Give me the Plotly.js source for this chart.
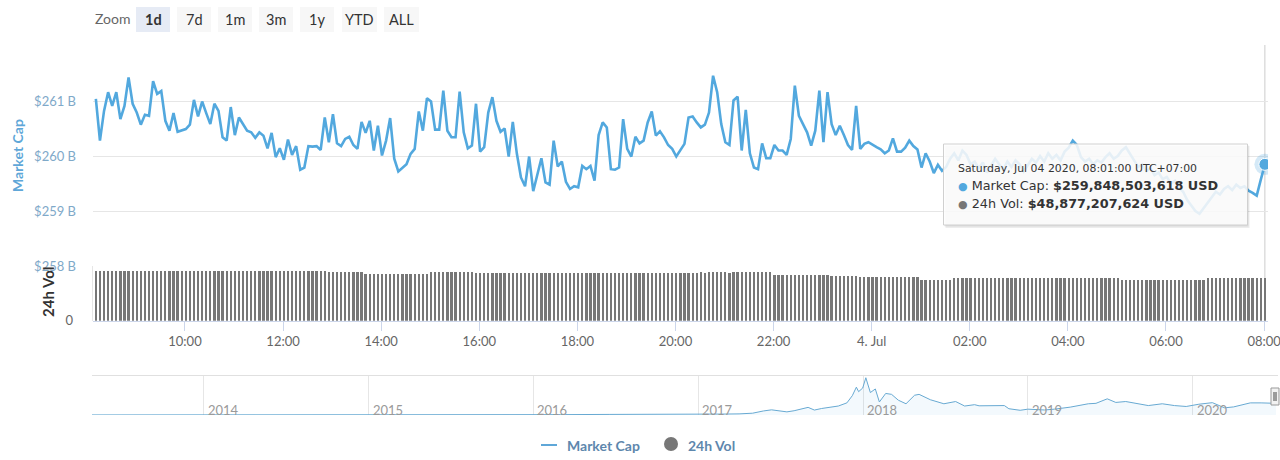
<!DOCTYPE html>
<html>
<head>
<meta charset="utf-8">
<script src="https://cdn.plot.ly/plotly-3.0.1.min.js"></script>
<style>
  html, body { margin: 0; padding: 0; background: #ffffff; }
  #chart { width: 1280px; height: 460px; }
</style>
</head>
<body>
<div id="chart"></div>
<script>
// ---------------- DATA ----------------
// 1-day market cap (billions USD), one point every 5 minutes, 2020-07-03 08:11 -> 2020-07-04 08:01 (UTC+07:00)
const startTime = '2020-07-03 08:11:00';
const stepMinutes = 5;
const marketCap = [
  261.04,260.28,260.82,261.16,260.91,261.16,260.67,260.91,261.43,260.95,
  260.79,260.57,260.75,260.73,261.36,261.13,261.18,260.64,260.46,260.78,
  260.44,260.47,260.49,260.57,261.02,260.72,260.99,260.78,260.58,260.95,
  260.82,260.34,260.28,260.89,260.38,260.70,260.58,260.46,260.43,260.33,
  260.43,260.37,260.14,260.42,259.98,260.14,259.93,260.30,260.02,260.18,
  259.75,259.79,260.18,260.17,260.18,260.11,260.70,260.25,260.76,260.23,
  260.18,260.31,260.35,260.20,260.13,260.62,260.42,260.64,260.10,260.55,
  260.01,260.28,260.69,259.95,259.72,259.79,259.85,260.04,260.13,260.81,
  260.46,261.05,260.99,260.48,260.48,261.19,260.46,260.34,260.34,261.17,
  260.43,260.14,260.19,260.95,
  260.08,260.16,260.79,261.07,260.64,260.44,260.50,259.99,260.62,260.04,
  259.61,259.45,259.99,259.36,259.67,259.96,259.52,259.48,260.28,259.81,
  259.90,259.53,259.40,259.45,259.43,259.82,259.76,259.82,259.55,260.38,
  260.61,260.52,259.76,259.75,259.79,260.67,260.13,259.99,260.35,260.23,
  260.28,260.61,260.81,260.37,260.45,260.34,260.20,260.13,259.99,260.11,
  260.22,260.70,260.72,260.61,260.52,260.57,260.79,261.46,261.16,260.58,
  260.25,260.20,261.01,261.08,260.10,260.84,260.05,259.79,259.76,260.23,
  259.96,259.96,260.20,260.10,260.10,260.02,260.31,261.28,260.73,260.58,
  260.43,260.19,260.46,261.19,260.25,261.16,260.58,260.38,260.55,260.38,
  260.20,260.11,260.91,260.13,260.22,260.25,260.20,260.16,
  260.12,260.05,260.10,260.32,260.08,260.08,260.15,260.28,260.18,260.12,
  259.79,260.05,259.90,259.69,259.84,259.73,
  259.80,259.95,260.05,259.92,260.10,260.02,259.85,259.90,259.78,259.88,
  259.70,259.82,259.95,259.85,259.75,259.90,259.80,259.92,259.85,259.72,
  259.83,259.95,259.88,260.00,259.90,260.05,259.95,260.02,259.92,260.08,
  260.15,260.28,260.20,259.98,259.90,259.95,259.85,259.92,259.88,259.98,
  260.05,259.95,260.00,260.10,260.16,260.05,259.92,259.80,259.85,259.72,
  259.78,259.65,259.70,259.58,259.62,259.50,259.55,259.42,259.35,259.20,
  259.10,259.00,258.95,259.05,259.15,259.25,259.35,259.30,259.40,259.45,
  259.38,259.48,259.42,259.45,
  259.37,259.33,259.28,259.57,259.848503618
];
// 24h volume (billions USD), same timestamps
const volume24h = [
  56.97,56.95,56.98,56.97,56.96,56.97,56.99,56.98,56.97,56.96,
  56.97,56.98,56.97,56.95,56.96,56.97,56.98,56.99,56.97,56.96,
  56.95,56.97,56.98,56.97,56.96,56.97,56.98,56.97,56.96,56.95,
  56.97,56.98,56.99,56.97,56.96,56.97,56.95,56.96,56.97,56.98,
  56.97,56.96,56.97,56.98,56.97,56.96,56.95,56.97,56.98,56.97,
  56.96,56.97,56.98,56.97,56.96,56.97,56.98,
  55.81,55.80,55.82,55.81,55.79,55.80,55.82,55.81,55.80,
  54.31,54.30,54.32,54.28,54.31,54.33,54.30,54.29,54.31,54.32,54.30,54.31,54.29,54.30,54.32,54.31,
  55.81,55.80,55.82,55.81,55.79,55.80,55.82,55.81,55.80,55.81,55.79,
  54.66,54.90,54.40,54.70,
  55.35,55.34,55.36,55.35,55.33,
  55.00,55.02,54.98,55.01,55.00,54.99,55.02,55.00,54.98,55.01,
  55.00,55.02,54.99,55.00,55.01,54.98,55.00,55.02,55.00,54.99,
  55.01,55.00,54.98,55.02,55.00,55.01,54.99,55.00,55.02,54.98,
  55.00,55.01,55.00,54.99,55.02,55.00,54.98,55.01,55.00,55.02,
  54.99,55.00,55.01,55.00,
  55.20,55.30,55.81,55.10,55.81,55.80,55.82,55.81,55.80,55.40,
  55.81,55.82,55.80,55.81,55.79,55.80,55.82,55.81,55.80,55.81,
  53.04,53.05,53.03,53.04,53.02,53.05,53.04,53.03,53.04,53.05,53.03,53.04,53.02,53.04,
  51.19,51.20,51.18,51.19,51.21,51.19,51.18,
  50.04,50.05,50.03,50.04,50.02,50.05,50.04,50.03,50.04,50.05,50.03,50.04,50.02,50.04,50.03,
  47.26,47.25,47.27,47.26,47.24,47.26,47.27,47.25,
  48.88,48.87,48.89,48.88,48.86,48.88,48.89,48.87,48.88,48.89,
  48.88,48.86,48.88,48.87,48.89,48.88,48.88,48.87,48.89,48.88,
  48.86,48.88,48.89,48.87,48.88,48.89,48.88,48.86,48.88,48.87,
  48.89,48.88,48.88,48.87,48.89,48.88,48.86,48.88,48.89,48.87,
  48.88,
  47.26,47.25,47.27,47.26,47.24,47.26,47.27,47.25,47.26,47.27,
  47.25,47.26,47.24,47.26,47.27,47.25,47.26,47.25,47.27,47.26,47.25,
  48.88,48.87,48.89,48.88,48.86,48.88,48.89,48.87,48.88,48.89,
  48.88,48.86,48.88,48.87,48.877207624
];
// Time axis ticks
const timeTickVals = ['2020-07-03 10:00','2020-07-03 12:00','2020-07-03 14:00','2020-07-03 16:00','2020-07-03 18:00',
  '2020-07-03 20:00','2020-07-03 22:00','2020-07-04 00:00','2020-07-04 02:00','2020-07-04 04:00',
  '2020-07-04 06:00','2020-07-04 08:00'];
const timeTickText = ['10:00','12:00','14:00','16:00','18:00','20:00','22:00','4. Jul','02:00','04:00','06:00','08:00'];
const capTickVals = [258, 259, 260, 261, 262];
const capTickText = ['$258 B', '$259 B', '$260 B', '$261 B', ''];

// Navigator: all-time market cap (billions USD)
const navDates = ['2013-04-28','2013-07-01','2013-10-01','2013-11-15','2013-12-04','2014-01-01','2014-03-01','2014-06-01',
  '2014-09-01','2014-12-01','2015-01-15','2015-04-01','2015-07-01','2015-10-01','2015-11-05','2016-01-01','2016-03-01',
  '2016-06-17','2016-09-01','2016-12-01','2017-01-05','2017-03-01','2017-04-01','2017-05-01','2017-05-25','2017-06-12',
  '2017-07-16','2017-08-01','2017-09-01','2017-09-15','2017-10-01','2017-11-07','2017-11-26','2017-12-08','2017-12-17',
  '2017-12-22','2017-12-31','2018-01-07','2018-01-17','2018-01-28','2018-02-06','2018-02-20','2018-03-05','2018-03-20',
  '2018-04-06','2018-04-25','2018-05-05','2018-05-30','2018-06-29','2018-07-25','2018-08-14','2018-09-05','2018-09-15',
  '2018-10-15','2018-11-10','2018-11-20','2018-12-15','2019-01-01','2019-02-07','2019-03-01','2019-04-05','2019-05-15',
  '2019-06-01','2019-06-26','2019-07-15','2019-08-06','2019-08-30','2019-09-25','2019-10-26','2019-11-22','2019-12-18',
  '2020-01-15','2020-02-14','2020-03-12','2020-04-01','2020-05-08','2020-06-01','2020-07-04'];
const navCap = [1.6,1.2,1.6,5,15,10,8,8.5,6.5,5.5,3.5,3.6,4.2,3.8,6.5,7,8,13,11,12.5,18,21,25,40,90,115,70,95,170,110,
  145,200,270,430,620,520,600,830,500,580,290,480,460,330,250,440,460,340,250,300,200,230,205,215,210,140,105,130,112,
  130,175,250,260,360,280,300,250,210,250,210,190,240,275,160,180,270,270,260];
const navYears = ['2014','2015','2016','2017','2018','2019','2020'];

const zoomButtons = ['1d','7d','1m','3m','1y','YTD','ALL'];
const selectedZoom = '1d';

// ---------------- HELPERS ----------------
const W = 1280, H = 460;
const X = px => px / W;
const Y = py => 1 - py / H;
function fmtDate(ms) { return new Date(ms).toISOString().slice(0, 19).replace('T', ' '); }
const t0 = Date.parse(startTime.replace(' ', 'T') + 'Z');
const times = marketCap.map((_, i) => fmtDate(t0 + i * stepMinutes * 60000));
const last = marketCap.length - 1;

const BLUE = '#52a8de';
const FONT = 'Lato, "Open Sans", sans-serif';
const TIPFONT = '"DejaVu Sans", Verdana, sans-serif';

// ---------------- TRACES ----------------
const traces = [
  {
    type: 'bar', x: times, y: volume24h, xaxis: 'x', yaxis: 'y2',
    marker: { color: '#777777', line: { width: 0 } },
    width: stepMinutes * 60000 * 0.56, hoverinfo: 'skip'
  },
  {
    type: 'scatter', mode: 'lines', x: times, y: marketCap, xaxis: 'x', yaxis: 'y',
    line: { color: BLUE, width: 2.6, shape: 'linear' }, hoverinfo: 'skip'
  },
  {
    type: 'scatter', mode: 'markers', x: [times[last]], y: [marketCap[last]], xaxis: 'x', yaxis: 'y',
    marker: { size: 21, color: 'rgba(82,168,222,0.25)' }, hoverinfo: 'skip'
  },
  {
    type: 'scatter', mode: 'markers', x: [times[last]], y: [marketCap[last]], xaxis: 'x', yaxis: 'y',
    marker: { size: 12, color: BLUE, line: { color: '#ffffff', width: 1 } }, hoverinfo: 'skip'
  },
  {
    type: 'scatter', mode: 'lines', x: navDates, y: navCap, xaxis: 'x2', yaxis: 'y3',
    line: { color: '#67a9d2', width: 1 }, fill: 'tozeroy', fillcolor: 'rgba(82,168,222,0.07)', hoverinfo: 'skip'
  }
];

// ---------------- SHAPES / ANNOTATIONS ----------------
const shapes = [];
const annotations = [];

// crosshair at hovered (last) point
shapes.push({ type: 'line', xref: 'x', yref: 'paper', x0: times[last], x1: times[last], y0: Y(321), y1: Y(45),
  line: { color: '#cccccc', width: 1 }, layer: 'below' });
// volume pane left border
shapes.push({ type: 'line', xref: 'paper', yref: 'paper', x0: X(92.5), x1: X(92.5), y0: Y(321), y1: Y(266),
  line: { color: '#e6e6e6', width: 1 }, layer: 'below' });
// navigator top outline
shapes.push({ type: 'line', xref: 'paper', yref: 'paper', x0: X(92), x1: X(1278), y0: Y(375.5), y1: Y(375.5),
  line: { color: '#e0e0e0', width: 1 }, layer: 'below' });

// navigator year labels
navYears.forEach(yr => {
  annotations.push({ xref: 'x2', yref: 'paper', x: yr + '-01-01', y: Y(410), xanchor: 'left', yanchor: 'middle',
    xshift: 2, text: yr, showarrow: false, font: { family: FONT, size: 13, color: '#9a9a9a' } });
});
// navigator handle
shapes.push({ type: 'rect', xref: 'paper', yref: 'paper', x0: X(1271), x1: X(1279), y0: Y(405), y1: Y(388),
  fillcolor: '#f2f2f2', line: { color: '#999999', width: 1 }, layer: 'above' });
[1274, 1276].forEach(px => shapes.push({ type: 'line', xref: 'paper', yref: 'paper', x0: X(px), x1: X(px),
  y0: Y(401), y1: Y(392), line: { color: '#444444', width: 1 }, layer: 'above' }));

// Zoom buttons
annotations.push({ xref: 'paper', yref: 'paper', x: X(93), y: Y(19), xanchor: 'left', yanchor: 'middle',
  text: 'Zoom', showarrow: false, font: { family: FONT, size: 14, color: '#666666' } });
zoomButtons.forEach((b, i) => {
  const left = 136 + i * 41 + (i >= 5 ? (i - 4) * 1 : 0);
  const w = (b.length === 3) ? 35 : 34;
  const sel = b === selectedZoom;
  shapes.push({ type: 'rect', xref: 'paper', yref: 'paper', x0: X(left), x1: X(left + w), y0: Y(32), y1: Y(7),
    fillcolor: sel ? '#e6ebf5' : '#f7f7f7', line: { width: 0 }, layer: 'below' });
  annotations.push({ xref: 'paper', yref: 'paper', x: X(left + w / 2), y: Y(19.5), xanchor: 'center', yanchor: 'middle',
    text: sel ? '<b>' + b + '</b>' : b, showarrow: false, font: { family: FONT, size: 14.5, color: '#333333' } });
});

// axis titles
annotations.push({ xref: 'paper', yref: 'paper', x: X(17), y: Y(156), textangle: -90, xanchor: 'center', yanchor: 'middle',
  text: '<b>Market Cap</b>', showarrow: false, font: { family: FONT, size: 14, color: '#5fa7d8' } });
annotations.push({ xref: 'paper', yref: 'paper', x: X(48), y: Y(292), textangle: -90, xanchor: 'center', yanchor: 'middle',
  text: '<b>24h Vol</b>', showarrow: false, font: { family: FONT, size: 15, color: '#333333' } });

// tooltip
const tipL = 943.5, tipR = 1247.5, tipT = 144, tipB = 225;
shapes.push({ type: 'rect', xref: 'paper', yref: 'paper', x0: X(tipL + 2), x1: X(tipR + 2), y0: Y(tipB + 3), y1: Y(tipT + 2),
  fillcolor: 'rgba(0,0,0,0.07)', line: { width: 0 }, layer: 'above' });
shapes.push({ type: 'rect', xref: 'paper', yref: 'paper', x0: X(tipL + 1), x1: X(tipR + 1), y0: Y(tipB + 1.5), y1: Y(tipT + 1),
  fillcolor: 'rgba(0,0,0,0.07)', line: { width: 0 }, layer: 'above' });
shapes.push({ type: 'rect', xref: 'paper', yref: 'paper', x0: X(tipL), x1: X(tipR), y0: Y(tipB), y1: Y(tipT),
  fillcolor: 'rgba(255,255,255,0.86)', line: { color: '#d0d0d0', width: 1 }, layer: 'above' });

const lastDate = new Date(t0 + last * stepMinutes * 60000);
const days = ['Sunday','Monday','Tuesday','Wednesday','Thursday','Friday','Saturday'];
const months = ['Jan','Feb','Mar','Apr','May','Jun','Jul','Aug','Sep','Oct','Nov','Dec'];
const p2 = n => String(n).padStart(2, '0');
const header = days[lastDate.getUTCDay()] + ', ' + months[lastDate.getUTCMonth()] + ' ' + p2(lastDate.getUTCDate()) + ' ' +
  lastDate.getUTCFullYear() + ', ' + p2(lastDate.getUTCHours()) + ':' + p2(lastDate.getUTCMinutes()) + ':00 UTC+07:00';
const usd = v => '$' + Math.round(v * 1e9).toLocaleString('en-US') + ' USD';

annotations.push({ xref: 'paper', yref: 'paper', x: X(956), y: Y(168), xanchor: 'left', yanchor: 'middle',
  text: header, showarrow: false, font: { family: TIPFONT, size: 10.9, color: '#333333' } });
annotations.push({ xref: 'paper', yref: 'paper', x: X(956), y: Y(185.5), xanchor: 'left', yanchor: 'middle',
  text: '<span style="color:' + BLUE + ';font-size:11px">●</span> Market Cap: <b>' + usd(marketCap[last]) + '</b>',
  showarrow: false, font: { family: TIPFONT, size: 12.8, color: '#333333' } });
annotations.push({ xref: 'paper', yref: 'paper', x: X(956), y: Y(203), xanchor: 'left', yanchor: 'middle',
  text: '<span style="color:#777777;font-size:11px">●</span> 24h Vol: <b>' + usd(volume24h[last]) + '</b>',
  showarrow: false, font: { family: TIPFONT, size: 12.8, color: '#333333' } });

// legend
shapes.push({ type: 'line', xref: 'paper', yref: 'paper', x0: X(541), x1: X(557), y0: Y(445), y1: Y(445),
  line: { color: '#5fa7d8', width: 2 } });
annotations.push({ xref: 'paper', yref: 'paper', x: X(565), y: Y(445), xanchor: 'left', yanchor: 'middle',
  text: '<b>Market Cap</b>', showarrow: false, font: { family: FONT, size: 14, color: '#5e87ad' } });
shapes.push({ type: 'circle', xref: 'paper', yref: 'paper', x0: X(664), x1: X(678), y0: Y(451), y1: Y(437),
  fillcolor: '#777777', line: { width: 0 } });
annotations.push({ xref: 'paper', yref: 'paper', x: X(686), y: Y(445), xanchor: 'left', yanchor: 'middle',
  text: '<b>24h Vol</b>', showarrow: false, font: { family: FONT, size: 14, color: '#5e87ad' } });

// ---------------- LAYOUT ----------------
const layout = {
  width: W, height: H,
  margin: { l: 0, r: 0, t: 0, b: 0, pad: 0 },
  paper_bgcolor: '#ffffff', plot_bgcolor: 'rgba(0,0,0,0)',
  showlegend: false, hovermode: false,
  font: { family: FONT, size: 13, color: '#666666' },
  bargap: 0,
  xaxis: {
    type: 'date', domain: [X(93), X(1268)], anchor: 'y2',
    range: ['2020-07-03 08:07:30', '2020-07-04 08:04:48'],
    tickmode: 'array', tickvals: timeTickVals, ticktext: timeTickText,
    ticks: 'outside', ticklen: 9, tickcolor: '#ccd6eb', tickwidth: 1,
    showline: true, linecolor: '#ccd6eb', linewidth: 1,
    showgrid: false, zeroline: false, ticklabeloverflow: 'allow',
    tickfont: { family: FONT, size: 13, color: '#666666' }
  },
  yaxis: {
    domain: [Y(266), Y(46)], range: [258, 262], anchor: 'x',
    tickmode: 'array', tickvals: capTickVals, ticktext: capTickText,
    showgrid: true, gridcolor: '#e6e6e6', gridwidth: 1, zeroline: false, showline: false,
    ticks: '', ticklabelstandoff: 16,
    tickfont: { family: FONT, size: 13, color: '#7fa9c9' }
  },
  yaxis2: {
    domain: [Y(320.7), Y(266)], range: [0, 63], anchor: 'x',
    tickmode: 'array', tickvals: [0], ticktext: ['0'],
    showgrid: false, zeroline: false, showline: false, ticks: '', ticklabelstandoff: 19,
    tickfont: { family: FONT, size: 13, color: '#666666' }
  },
  xaxis2: {
    type: 'date', domain: [X(92), X(1276)], anchor: 'y3',
    range: ['2013-04-28', '2020-07-04'],
    tickmode: 'array', tickvals: navYears.map(y => y + '-01-01'),
    showticklabels: false, ticks: '', showgrid: true, gridcolor: '#e6e6e6', zeroline: false, showline: false
  },
  yaxis3: {
    domain: [Y(415), Y(375.5)], range: [0, 880], anchor: 'x2',
    showticklabels: false, showgrid: false, zeroline: false, showline: false, ticks: ''
  },
  shapes: shapes,
  annotations: annotations
};

Plotly.newPlot('chart', traces, layout, { staticPlot: true, displayModeBar: false });
</script>
</body>
</html>
